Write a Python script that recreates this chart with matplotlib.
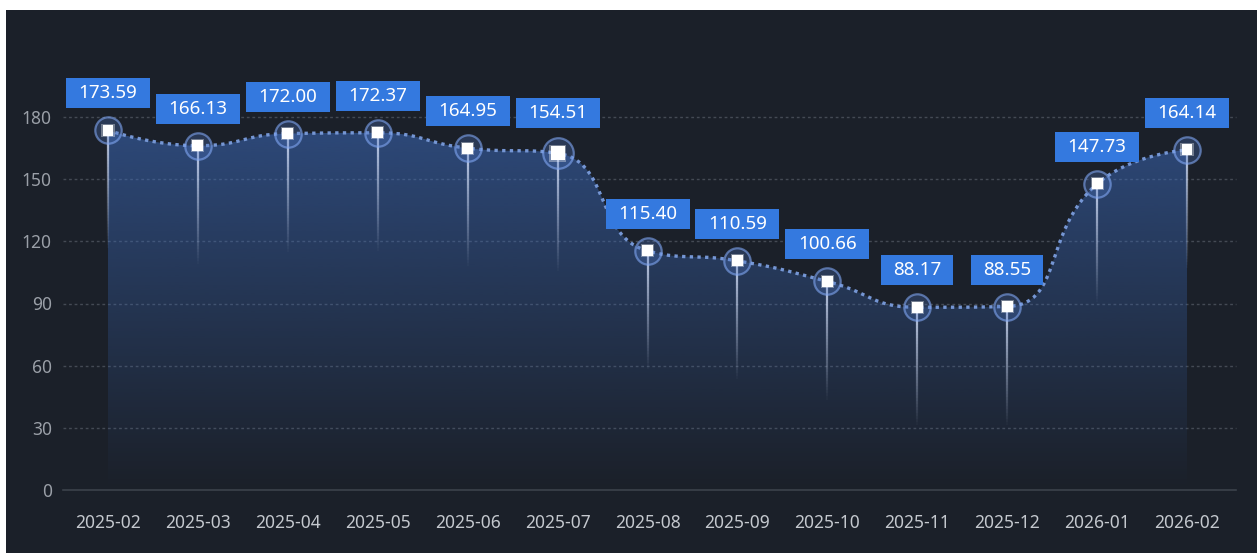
import numpy as np
import matplotlib
matplotlib.use("Agg")
import matplotlib.pyplot as plt
from matplotlib.patches import Rectangle, Polygon
from matplotlib.collections import LineCollection

plt.rcParams['font.family'] = ['Noto Sans', 'DejaVu Sans']

# data
months = ['2025-02', '2025-03', '2025-04', '2025-05', '2025-06', '2025-07',
          '2025-08', '2025-09', '2025-10', '2025-11', '2025-12', '2026-01',
          '2026-02']
values = [173.59, 166.13, 172.00, 172.37, 164.95, 162.5, 115.40, 110.59,
          100.66, 88.17, 88.55, 147.73, 164.14]
labels = ['173.59', '166.13', '172.00', '172.37', '164.95', '154.51', '115.40',
          '110.59', '100.66', '88.17', '88.55', '147.73', '164.14']
highlight = 5
y_ticks = [0, 30, 60, 90, 120, 150, 180]

W, H = 1257, 553
BG = '#1b2029'

# axes geometry in pixels
ax_left, ax_right = 63, 1232
ax_bottom, ax_top = 490, 117
n = len(months)
px_x = (ax_right - ax_left) / n
px_y = (ax_bottom - ax_top) / 180.0


def smooth_curve(xs, ys, smooth=0.5, steps=30):
    # bezier smoothing with clamped control points (like echarts smooth line)
    pts = np.column_stack([np.asarray(xs) * px_x, np.asarray(ys) * px_y])
    t = np.linspace(0, 1, steps)[:, None]
    out = [pts[:1]]
    cp0 = pts[0].copy()
    for i in range(1, len(pts)):
        p, prev = pts[i], pts[i - 1]
        nxt_cp0 = p.copy()
        if i == len(pts) - 1:
            cp1 = p.copy()
        else:
            nxt = pts[i + 1]
            v = nxt - prev
            len_prev = np.hypot(*(p - prev))
            len_next = np.hypot(*(nxt - p))
            ratio = len_next / (len_next + len_prev)
            nxt_cp0 = p + v * smooth * ratio
            nxt_cp0 = np.minimum(nxt_cp0, np.maximum(nxt, p))
            nxt_cp0 = np.maximum(nxt_cp0, np.minimum(nxt, p))
            v = nxt_cp0 - p
            cp1 = p - v * len_prev / len_next
            cp1 = np.minimum(cp1, np.maximum(prev, p))
            cp1 = np.maximum(cp1, np.minimum(prev, p))
            v = p - cp1
            nxt_cp0 = p + v * len_next / len_prev
        seg = ((1 - t) ** 3) * prev + 3 * ((1 - t) ** 2) * t * cp0 \
            + 3 * (1 - t) * t ** 2 * cp1 + t ** 3 * p
        out.append(seg[1:])
        cp0 = nxt_cp0
    out = np.vstack(out)
    return out[:, 0] / px_x, out[:, 1] / px_y


fig = plt.figure(figsize=(W / 100, H / 100), dpi=100, facecolor='white')
fig.patches.append(Rectangle((6 / W, 0), 1 - 6 / W, (H - 10) / H,
                             transform=fig.transFigure, facecolor=BG,
                             edgecolor='none', zorder=-10))

ax = fig.add_axes([ax_left / W, (H - ax_bottom) / H,
                   (ax_right - ax_left) / W, (ax_bottom - ax_top) / H])
ax.set_facecolor('none')

x = np.arange(n)
cx, cy = smooth_curve(x, values)

# gradient area under the curve
ymax = max(values)
grad = np.zeros((200, 1, 4))
grad[:, 0, 0] = 60 / 255
grad[:, 0, 1] = 106 / 255
grad[:, 0, 2] = 186 / 255
grad[:, 0, 3] = np.linspace(0.55, 0.0, 200)
img = ax.imshow(grad, extent=[0, n - 1, 0, ymax], aspect='auto',
                origin='upper', zorder=1, interpolation='bilinear')
poly = Polygon(np.column_stack([np.r_[cx, cx[-1], cx[0]],
                                np.r_[cy, 0, 0]]),
               closed=True, facecolor='none', edgecolor='none',
               transform=ax.transData)
ax.add_patch(poly)
img.set_clip_path(poly)
ax.set_xlim(-0.5, n - 0.5)
ax.set_ylim(0, 180)

# grid
for yt in y_ticks[1:]:
    ax.axhline(yt, xmin=0, xmax=1.003, color='#444a54', lw=1,
               linestyle=(0, (2, 2)), zorder=0.5, clip_on=False)
ax.axhline(0, xmin=0, xmax=1.003, color='#3c424b', lw=1.2, zorder=0.5,
           clip_on=False)

# fading stems below each point
stem_len = 57
segs, cols = [], []
for xi, v in zip(x, values):
    ys = np.linspace(v, v - stem_len, 40)
    for k in range(len(ys) - 1):
        segs.append([(xi, ys[k]), (xi, ys[k + 1])])
        cols.append((0.86, 0.9, 1.0, 0.85 * (1 - k / (len(ys) - 1))))
ax.add_collection(LineCollection(segs, colors=cols, linewidths=1.6,
                                 zorder=2.5))

# dotted smooth line
ax.plot(cx, cy, color='#7596d4', lw=2.4, linestyle=(0, (1, 1.3)),
        zorder=3, clip_on=False)

# markers
for i, (xi, v) in enumerate(zip(x, values)):
    big = i == highlight
    ax.scatter([xi], [v], s=(22 if big else 19) ** 2, marker='o',
               facecolor=(0.3, 0.45, 0.75, 0.3),
               edgecolor=(0.5, 0.65, 0.95, 0.6), linewidths=1.6,
               zorder=4, clip_on=False)
    ax.scatter([xi], [v], s=(12 if big else 9.5) ** 2, marker='s',
               facecolor=(1, 1, 1, 0.35), edgecolor='none', zorder=4.5,
               clip_on=False)
    ax.scatter([xi], [v], s=(10 if big else 7.8) ** 2, marker='s',
               facecolor='white', edgecolor='none', zorder=5,
               clip_on=False)

# value labels in blue boxes
box_h = 30 / px_y
for i, (xi, v, lab) in enumerate(zip(x, values, labels)):
    gap = (25 if i == highlight else 22) / px_y
    bw = (len(lab) * 12 + 12) / px_x
    ax.add_patch(Rectangle((xi - bw / 2, v + gap), bw, box_h,
                           facecolor='#3479df', edgecolor='none',
                           zorder=6, clip_on=False))
    ax.text(xi, v + gap + box_h / 2, lab, color='white', fontsize=13.5,
            ha='center', va='center', zorder=7, clip_on=False)

# axes styling
for s in ax.spines.values():
    s.set_visible(False)
ax.set_xticks(x)
ax.set_xticklabels(months, color='#c4c8ce', fontsize=12.5)
ax.set_yticks(y_ticks)
ax.set_yticklabels([str(t) for t in y_ticks], color='#9a9fa7', fontsize=12.5)
ax.tick_params(axis='both', length=0)
ax.tick_params(axis='x', pad=17)
ax.tick_params(axis='y', pad=8)

fig.savefig('out.png', dpi=100, facecolor='white')
